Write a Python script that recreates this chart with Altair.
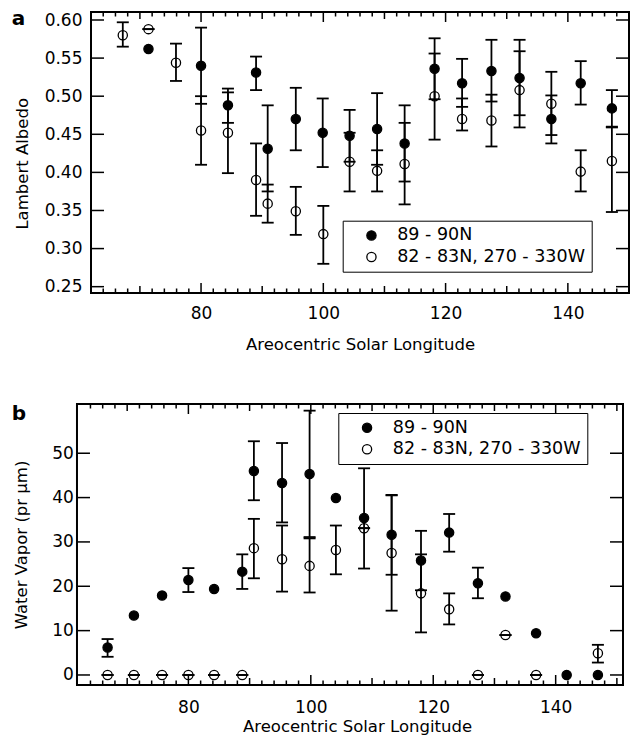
import altair as alt
import pandas as pd

FONT = "DejaVu Sans"
S1 = "89 - 90N"
S2 = "82 - 83N, 270 - 330W"
NA = None

# ---------------- panel a : Lambert albedo ----------------
a_filled_x = [71.4, 80.0, 84.4, 89.0, 90.9, 95.5, 99.9, 104.3, 108.8, 113.3, 118.2, 122.7, 127.5, 132.1, 137.3, 142.1, 147.2]
a_filled_y = [0.562, 0.540, 0.488, 0.531, 0.431, 0.470, 0.452, 0.448, 0.457, 0.438, 0.536, 0.517, 0.533, 0.524, 0.470, 0.517, 0.484]
a_filled_lo = [NA, 0.490, 0.465, 0.508, 0.375, 0.429, 0.407, 0.414, 0.410, 0.388, 0.496, 0.486, 0.493, 0.475, 0.438, 0.489, 0.460]
a_filled_hi = [NA, 0.590, 0.510, 0.552, 0.488, 0.511, 0.497, 0.482, 0.504, 0.488, 0.576, 0.549, 0.574, 0.574, 0.501, 0.546, 0.508]

a_open_x = [67.2, 71.4, 75.9, 80.0, 84.4, 89.0, 90.9, 95.5, 100.0, 104.3, 108.8, 113.3, 118.2, 122.7, 127.5, 132.1, 137.3, 142.1, 147.2]
a_open_y = [0.580, 0.588, 0.544, 0.455, 0.452, 0.390, 0.359, 0.349, 0.319, 0.414, 0.402, 0.411, 0.500, 0.470, 0.468, 0.508, 0.490, 0.401, 0.415]
a_open_lo = [0.565, 0.588, 0.520, 0.410, 0.399, 0.343, 0.334, 0.318, 0.280, 0.375, 0.375, 0.358, 0.443, 0.455, 0.434, 0.459, 0.449, 0.375, 0.348]
a_open_hi = [0.597, 0.588, 0.569, 0.500, 0.505, 0.438, 0.384, 0.381, 0.356, 0.452, 0.429, 0.465, 0.556, 0.497, 0.502, 0.559, 0.532, 0.429, 0.459]

# ---------------- panel b : water vapor ----------------
b_filled_x = [66.8, 71.1, 75.7, 80.0, 84.2, 88.8, 90.7, 95.3, 99.8, 104.1, 108.7, 113.2, 118.0, 122.6, 127.3, 131.8, 136.8, 141.8, 146.9]
b_filled_y = [6.2, 13.4, 17.9, 21.4, 19.4, 23.3, 46.0, 43.3, 45.3, 39.9, 35.4, 31.6, 25.8, 32.1, 20.7, 17.7, 9.4, 0.0, 0.0]
b_filled_lo = [4.1, NA, NA, 18.7, NA, 19.4, 39.4, 34.4, 31.1, NA, 24.0, 22.6, 19.1, 27.8, 17.3, NA, NA, NA, NA]
b_filled_hi = [8.1, NA, NA, 24.1, NA, 27.2, 52.7, 52.3, 59.6, NA, 46.6, 40.6, 32.5, 36.3, 24.2, NA, NA, NA, NA]

b_open_x = [66.8, 71.1, 75.7, 80.0, 84.2, 88.8, 90.7, 95.3, 99.8, 104.1, 108.7, 113.2, 118.0, 122.6, 127.3, 131.8, 136.8, 146.9]
b_open_y = [0.0, 0.0, 0.0, 0.0, 0.0, 0.0, 28.6, 26.1, 24.6, 28.2, 33.1, 27.5, 18.4, 14.8, 0.0, 9.0, 0.0, 4.9]
b_open_lo = [0.0, 0.0, 0.0, 0.0, 0.0, 0.0, 21.8, 18.8, 18.6, 22.7, 33.1, 14.5, 9.6, 11.4, 0.0, 9.0, 0.0, 2.8]
b_open_hi = [0.0, 0.0, 0.0, 0.0, 0.0, 0.0, 35.2, 33.7, 30.8, 33.7, 33.1, 40.5, 27.2, 18.4, 0.0, 9.0, 0.0, 6.8]

# ---------------- axis ticks ----------------
x_labels = [80, 100, 120, 140]
x_mid_a = [70, 90, 110, 130]
x_mid_b = [70, 90, 110, 130, 150]
x_minor = [64, 66, 68, 72, 74, 76, 78, 82, 84, 86, 88, 92, 94, 96, 98,
           102, 104, 106, 108, 112, 114, 116, 118, 122, 124, 126, 128,
           132, 134, 136, 138, 142, 144, 146, 148]
a_y_labels = [0.25, 0.30, 0.35, 0.40, 0.45, 0.50, 0.55, 0.60]
b_y_labels = [0, 10, 20, 30, 40, 50]


def frame(xs, fy, lo, hi, name):
    return pd.DataFrame({"x": xs, "y": fy, "lo": lo, "hi": hi, "series": name})


def panel(df, W, H, xdom, frame_x, ydom, y_labels, yfmt, ytitle, ylabpad, ytitlex, ytitley,
          xlabpad, xtitley, x_mid, letter, letter_x, letter_y, leg_x, leg_y):
    xs = alt.Scale(domain=xdom, nice=False, zero=False)
    ys = alt.Scale(domain=ydom, nice=False, zero=False)
    f0 = (frame_x[0] - xdom[0]) / (xdom[1] - xdom[0]) * W
    xaxis = alt.Axis(values=x_labels, format="d", ticks=False, tickSize=0, domain=False,
                     grid=False, labelFont=FONT, labelFontSize=17, labelColor="black",
                     labelPadding=xlabpad, title="Areocentric Solar Longitude",
                     titleFont=FONT, titleFontSize=16.5, titleFontWeight="normal",
                     titleColor="black", titleY=xtitley, titleBaseline="alphabetic")
    yaxis = alt.Axis(values=y_labels, format=yfmt, ticks=False, tickSize=0, domain=False,
                     grid=False, labelFont=FONT, labelFontSize=17, labelColor="black",
                     labelPadding=ylabpad, title=ytitle, titleFont=FONT, titleFontSize=16.5,
                     titleFontWeight="normal", titleColor="black", titleX=ytitlex,
                     titleY=ytitley, titleBaseline="alphabetic")

    def X(f):
        return alt.X(f, type="quantitative", scale=xs, axis=xaxis)

    def Y(f):
        return alt.Y(f, type="quantitative", scale=ys, axis=yaxis)

    box = alt.Chart(pd.DataFrame({"x0": [frame_x[0]], "x1": [frame_x[1]]})).mark_rect(
        fillOpacity=0, stroke="black", strokeWidth=2).encode(
        x=X("x0"), x2="x1", y=alt.value(0), y2=alt.value(H))

    base = alt.Chart(df)
    bars = base.mark_rule(color="black", strokeWidth=1.8).encode(x=X("x"), y=Y("lo"), y2="hi")
    cap_lo = base.mark_tick(orient="horizontal", color="black", size=12, thickness=1.8,
                            opacity=1).encode(x=X("x"), y=Y("lo"))
    cap_hi = base.mark_tick(orient="horizontal", color="black", size=12, thickness=1.8,
                            opacity=1).encode(x=X("x"), y=Y("hi"))
    pts = base.mark_point(shape="circle", filled=True, size=85, stroke="black",
                          strokeWidth=1.3, opacity=1).encode(
        x=X("x"), y=Y("y"),
        fill=alt.Fill("series:N",
                      scale=alt.Scale(domain=[S1, S2], range=["black", "transparent"]),
                      legend=alt.Legend(title=None, orient="none", legendX=leg_x,
                                        legendY=leg_y, direction="vertical",
                                        symbolType="circle", symbolSize=85,
                                        symbolStrokeColor="black", symbolStrokeWidth=1.3,
                                        labelFont=FONT, labelFontSize=17.5, labelLimit=500,
                                        labelColor="black", strokeColor="black",
                                        fillColor="white", padding=6, symbolOffset=14,
                                        labelOffset=17, rowPadding=2.5,
                                        labelExpr="datum.label + '\u00a0\u00a0\u00a0\u00a0'")))

    layers = [box, bars, cap_lo, cap_hi]

    def xt(vals, L):
        d = alt.Chart(pd.DataFrame({"v": vals}))
        bot = d.mark_rule(color="black", strokeWidth=1.5).encode(
            x=X("v"), y=alt.value(H), y2=alt.value(H - L))
        top = d.mark_rule(color="black", strokeWidth=1.5).encode(
            x=X("v"), y=alt.value(0), y2=alt.value(L))
        return [bot, top]

    def yt(vals, L):
        d = alt.Chart(pd.DataFrame({"v": vals}))
        left = d.mark_rule(color="black", strokeWidth=1.5).encode(
            y=Y("v"), x=alt.value(f0), x2=alt.value(f0 + L))
        right = d.mark_rule(color="black", strokeWidth=1.5).encode(
            y=Y("v"), x=alt.value(W - L), x2=alt.value(W))
        return [left, right]

    layers += xt(x_minor, 4.5) + xt(x_mid, 7) + xt(x_labels, 10) + yt(y_labels, 13)
    lab = alt.Chart(pd.DataFrame({"t": [letter]})).mark_text(
        align="left", baseline="alphabetic", font=FONT, fontSize=20, fontWeight="bold",
        color="black").encode(text="t:N", x=alt.value(letter_x), y=alt.value(letter_y))
    layers += [lab, pts]
    return alt.layer(*layers).properties(width=W, height=H)


df_a = pd.concat([frame(a_filled_x, a_filled_y, a_filled_lo, a_filled_hi, S1),
                  frame(a_open_x, a_open_y, a_open_lo, a_open_hi, S2)],
                 ignore_index=True)
df_b = pd.concat([frame(b_filled_x, b_filled_y, b_filled_lo, b_filled_hi, S1),
                  frame(b_open_x, b_open_y, b_open_lo, b_open_hi, S2)],
                 ignore_index=True)

pa = panel(df_a, 538, 281, [62, 150], [62, 150], [0.2417, 0.6105], a_y_labels, ".2f",
           "Lambert Albedo", 9, -64, 151.3, 12, 56, x_mid_a, "a", -79.3, 13,
           251.7, 208.7)
pb = panel(df_b, 532, 281, [64.09, 151], [61.8, 151], [-2.26, 61.1], b_y_labels, "d",
           "Water Vapor (pr µm)", 17.7, -64.3, 140.5, 14, 46.7, x_mid_b, "b", -79.3, 15.6,
           247.3, 9)

chart = alt.vconcat(pa, pb, spacing=50).resolve_scale(
    x="independent", y="independent", fill="independent").resolve_legend(
    fill="independent").properties(
    padding={"left": 11, "top": 9, "right": 0, "bottom": 4}, background="white"
).configure_view(strokeWidth=0, strokeOpacity=0)

chart.save("out.html", embed_options={"renderer": "svg", "actions": False})
